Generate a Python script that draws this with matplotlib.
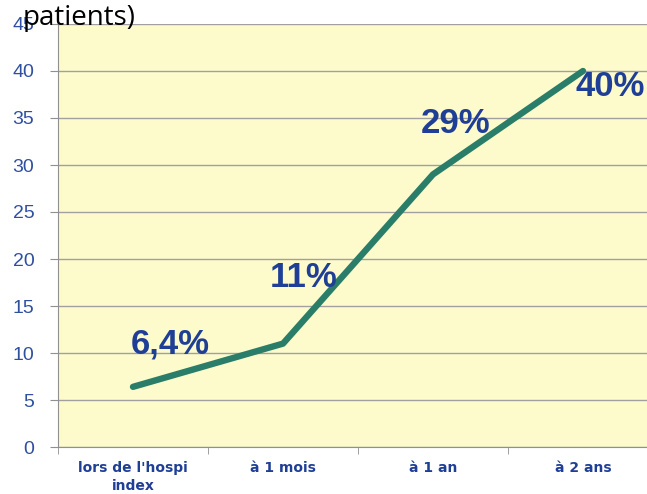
import numpy as np
import matplotlib.pyplot as plt

categories = ["lors de l'hospi\nindex", "à 1 mois", "à 1 an", "à 2 ans"]
values = [6.4, 11, 29, 40]
labels = ["6,4%", "11%", "29%", "40%"]
label_pos = [(0.25, 11.0), (0.14, 18.0), (0.15, 34.4), (0.18, 38.4)]

blue = '#1f3f96'
fig = plt.figure(figsize=(6.47, 4.94), dpi=100)
ax = fig.add_axes([58/647, 1-447/494, 600/647, 423/494])
ax.set_facecolor('#fdfbcc')

x = np.arange(len(values))
ax.plot(x, values, color='#2a7d68', lw=4.6, solid_capstyle='round', zorder=3)
for i, (t, (dx, y)) in enumerate(zip(labels, label_pos)):
    ax.text(i + dx, y, t, ha='center', va='center', fontsize=25, fontweight='bold',
            color=blue, family='Liberation Sans', zorder=4)

ax.set_xlim(-0.5, 3.5)
ax.set_ylim(0, 45)
ax.set_yticks(range(0, 46, 5))
ax.yaxis.grid(True, color='#a0a0a0', lw=1)
ax.set_axisbelow(True)
ax.tick_params(axis='y', colors='#909090', labelcolor='#2f4fa0', labelsize=14, length=6, pad=11)
for lab in ax.get_yticklabels():
    lab.set_family('Liberation Sans')

ax.set_xticks(x)
ax.set_xticklabels(categories, fontsize=10, fontweight='bold', color=blue,
                   family='Liberation Sans Narrow', linespacing=1.35)
ax.tick_params(axis='x', length=0, pad=10)
ax.set_xticks(np.arange(-0.5, 4, 1), minor=True)
ax.tick_params(axis='x', which='minor', length=5, color='#909090')

for s in ['top', 'right']:
    ax.spines[s].set_visible(False)
ax.spines['left'].set_color('#909090')
ax.spines['bottom'].set_color('#909090')

fig.text(23/647, 1-25/494, 'patients)', fontsize=20, family='Open Sans', va='baseline', ha='left',
         zorder=5)

fig.savefig('out.png', dpi=100)
